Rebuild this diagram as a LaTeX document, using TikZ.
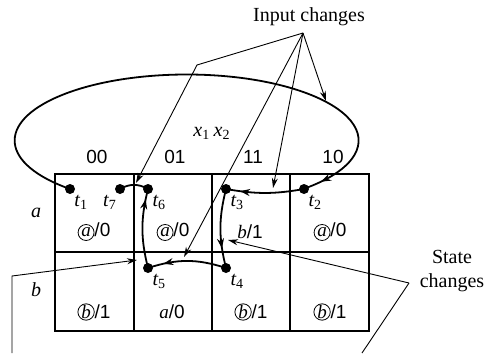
\documentclass[tikz,border=0pt]{standalone}
\usepackage{fontspec}
\setmainfont{Liberation Serif}
\setsansfont{Liberation Sans}
\usetikzlibrary{arrows.meta,decorations.markings,positioning}

\newcommand{\ring}[1]{\tikz[baseline=(r.base)]\node[circle,draw,line width=0.4pt,inner sep=0pt,minimum size=8pt](r){\rmfamily\itshape #1};}
\newcommand{\tn}[1]{{\itshape t}\textsubscript{#1}}

\begin{document}
\begin{tikzpicture}[x=0.5pt,y=-0.5pt,
  dot/.style={circle,fill,inner sep=0pt,minimum size=5pt},
  tname/.style={inner sep=0.5pt,label distance=0pt},
  move/.style={line width=0.9pt,postaction=decorate,
    decoration={markings,mark=at position #1 with {\arrow{Stealth[length=5pt,width=3.5pt]}}}},
  move/.default=0.8,
  pointer/.style={line width=0.45pt,-{Stealth[length=5pt,width=3pt]}},
  entry/.style={font=\sffamily\fontsize{9.5}{11}\selectfont}]
\useasboundingbox (0,0) rectangle (486,353);

% the map
\draw[line width=1pt] (55,174) rectangle (369,331);
\foreach \x in {134,212,290} \draw[line width=1pt] (\x,174) -- (\x,331);
\draw[line width=1pt] (55,252) -- (369,252);

% headings
\node (x12) at (212,133) {{\itshape x}\textsubscript{1}\,{\itshape x}\textsubscript{2}};
\node[entry] (h00) at (97,157) {00};
\node[entry] (h01) at (175,157) {01};
\node[entry] (h11) at (253,157) {11};
\node[entry] (h10) at (333,157) {10};
\node (ra) at (36,213) {\itshape a};
\node (rb) at (36,290) {\itshape b};

% entries
\node[entry] (a00) at (94,232) {\ring{a}/0};
\node[entry] (a01) at (173,232) {\ring{a}/0};
\node[entry] (a11) at (250,232) {\textrm{\itshape b}/1};
\node[entry] (a10) at (330,232) {\ring{a}/0};
\node[entry] (b00) at (94,312) {\ring{b}/1};
\node[entry] (b01) at (172,312) {\textrm{\itshape a}/0};
\node[entry] (b11) at (251,312) {\ring{b}/1};
\node[entry] (b10) at (330,312) {\ring{b}/1};

% total states
\node[dot,label={[tname]-55:\tn{1}}] (t1) at (70,189) {};
\node[dot,label={[tname]-55:\tn{2}}] (t2) at (304,189) {};
\node[dot,label={[tname]-55:\tn{3}}] (t3) at (226,189) {};
\node[dot,label={[tname]-55:\tn{4}}] (t4) at (226,268) {};
\node[dot,label={[tname]-55:\tn{5}}] (t5) at (148,268) {};
\node[dot,label={[tname]-55:\tn{6}}] (t6) at (148,189) {};
\node[dot,label={[tname]-110:\tn{7}}] (t7) at (120,189) {};

% transitions
\draw[move=0.965] (t1.center) arc[start angle=132.7,end angle=407.3,x radius=172,y radius=66];
\draw[move=0.82] (t2.center) to[bend left=10] (t3.center);
\draw[move=0.75] (t3.center) to[bend right=14] (t4.center);
\draw[move=0.8] (t4.center) to[bend right=18] (t5.center);
\draw[move=0.87] (t5.center) to[bend left=14] (t6.center);
\draw[line width=0.9pt] (t6.center) to[bend right=30] (t7.center);

% input changes
\node (inp) at (309,17) {Input changes};
\coordinate (ia) at (303,33);
\coordinate (ik) at (197,65);
\coordinate (i1) at (136,183);
\coordinate (i2) at (184,257);
\coordinate (i3) at (273,188);
\coordinate (i4) at (326,101);
\draw[pointer] (ia) -- (ik) -- (i1);
\draw[pointer] (ia) -- (i2);
\draw[pointer] (ia) -- (i3);
\draw[pointer] (ia) -- (i4);

% state changes
\node[align=center,inner sep=0pt] (st) at (452,271) {State\\changes};
\coordinate (sa) at (409,283);
\coordinate (s1) at (228,240);
\coordinate (s2) at (137,260);
\coordinate (sl) at (12,276);
\draw[pointer] (sa) -- (s1);
\draw[line width=0.45pt] (sa) -- (362,353);
\draw[pointer] (12,353) -- (sl) -- (s2);
\end{tikzpicture}
\end{document}
